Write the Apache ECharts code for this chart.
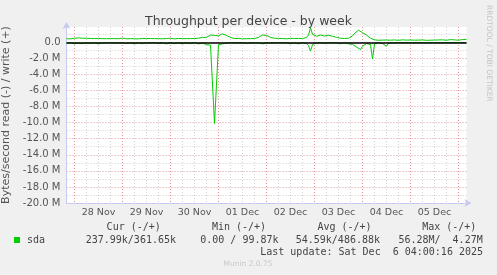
<!DOCTYPE html>
<html>
<head>
<meta charset="utf-8">
<script src="https://cdn.jsdelivr.net/npm/echarts@6/dist/echarts.min.js"></script>
<style>
html,body{margin:0;padding:0;background:#f0f0f0;}
#c{width:497px;height:275px;}
</style>
</head>
<body>
<div id="c"></div>
<script>
// hour index 0 = Nov 27 20:00, 200 = Dec 6 04:00 (hourly samples)
const dayLabels = ['28 Nov','29 Nov','30 Nov','01 Dec','02 Dec','03 Dec','04 Dec','05 Dec'];
// write (+), in MB/s
const writeValues = [
0.45,0.48,0.42,0.44,0.5,0.46,0.55,0.62,0.5,0.66,
0.5,0.45,0.47,0.43,0.46,0.44,0.48,0.42,0.45,0.47,
0.44,0.5,0.46,0.43,0.45,0.48,0.44,0.46,0.52,0.45,
0.43,0.47,0.45,0.5,0.44,0.46,0.42,0.45,0.48,0.44,
0.46,0.43,0.47,0.55,0.45,0.44,0.46,0.48,0.43,0.45,
0.47,0.44,0.5,0.46,0.42,0.45,0.48,0.44,0.46,0.43,
0.45,0.49,0.46,0.44,0.47,0.45,0.5,0.55,0.62,0.8,
0.6,0.7,0.9,1.1,0.85,0.7,0.8,0.95,1.05,0.9,
0.85,0.75,0.6,0.5,0.46,0.44,0.47,0.45,0.43,0.46,
0.44,0.48,0.45,0.5,0.47,0.55,0.6,0.75,0.9,1.1,
0.85,0.7,0.62,0.55,0.5,0.46,0.48,0.44,0.47,0.45,
0.43,0.46,0.5,0.44,0.47,0.45,0.48,0.5,0.46,0.52,
0.6,0.9,1.8,1.0,0.85,0.75,0.8,0.9,0.85,0.78,
0.82,0.88,0.8,0.75,0.7,0.62,0.55,0.5,0.46,0.48,
0.45,0.5,0.6,0.8,1.1,1.3,1.5,1.35,1.2,1.0,
0.9,0.7,0.5,0.35,0.3,0.28,0.25,0.3,0.27,0.24,
0.28,0.3,0.26,0.25,0.29,0.27,0.24,0.26,0.3,0.25,
0.27,0.25,0.28,0.24,0.26,0.3,0.27,0.25,0.29,0.26,
0.24,0.28,0.26,0.32,0.27,0.25,0.29,0.26,0.3,0.27,
0.25,0.28,0.33,0.26,0.3,0.27,0.25,0.29,0.34,0.3,0.36
];
// read (-), in MB/s
const readValues = [
-0.1,-0.2,-0.05,-0.08,-0.2,-0.05,-0.1,-0.06,-0.18,-0.05,
-0.07,-0.05,-0.15,-0.06,-0.05,-0.08,-0.2,-0.05,-0.06,-0.1,
-0.05,-0.18,-0.06,-0.05,-0.07,-0.2,-0.05,-0.06,-0.08,-0.05,
-0.16,-0.05,-0.06,-0.05,-0.2,-0.07,-0.05,-0.06,-0.18,-0.05,
-0.06,-0.08,-0.05,-0.2,-0.06,-0.05,-0.15,-0.05,-0.07,-0.06,
-0.2,-0.05,-0.06,-0.05,-0.18,-0.07,-0.05,-0.06,-0.2,-0.05,
-0.06,-0.05,-0.17,-0.06,-0.05,-0.08,-0.2,-0.06,-0.1,-0.25,
-0.3,-0.2,-0.35,-0.3,-10.1,-10.1,-0.3,-0.25,-0.2,-0.15,
-0.1,-0.06,-0.05,-0.08,-0.05,-0.2,-0.06,-0.05,-0.07,-0.05,
-0.15,-0.05,-0.06,-0.05,-0.08,-0.18,-0.06,-0.1,-0.2,-0.15,
-0.08,-0.05,-0.06,-0.2,-0.05,-0.06,-0.05,-0.17,-0.05,-0.06,
-0.05,-0.08,-0.18,-0.05,-0.06,-0.05,-0.2,-0.06,-0.05,-0.1,
-0.15,-0.4,-1.1,-0.3,-0.1,-0.06,-0.2,-0.05,-0.06,-0.15,
-0.05,-0.06,-0.2,-0.05,-0.08,-0.06,-0.05,-0.18,-0.06,-0.05,
-0.1,-0.2,-0.3,-0.25,-0.35,-0.6,-0.8,-0.9,-0.5,-0.3,
-0.15,-0.1,-0.3,-2.07,-0.2,-0.08,-0.05,-0.1,-0.15,-0.3,
-0.5,-0.1,-0.05,-0.04,-0.05,-0.03,-0.04,-0.05,-0.03,-0.04,
-0.05,-0.03,-0.04,-0.06,-0.03,-0.04,-0.05,-0.03,-0.04,-0.05,
-0.03,-0.04,-0.05,-0.03,-0.06,-0.04,-0.03,-0.05,-0.04,-0.03,
-0.04,-0.05,-0.03,-0.04,-0.06,-0.03,-0.04,-0.05,-0.03,-0.04,-0.05
];
const legendHeaders = ['Cur (-/+)','Min (-/+)','Avg (-/+)','Max (-/+)'];
const legendValues = ['237.99k/361.65k','0.00 / 99.87k','54.59k/486.88k','56.28M/  4.27M'];
const seriesName = 'sda';
const lastUpdate = 'Last update: Sat Dec  6 04:00:16 2025';

const GREEN = '#00cc00';
const RED = 'rgba(225,140,140,0.9)';
const GREY = '#cfcfcf';
const T = 'rgba(0,0,0,0)';
const AXIS = '#c8c8f0';
const SANS = 'DejaVu Sans';
const MONO = 'DejaVu Sans Mono';

const chart = echarts.init(document.getElementById('c'), null, {renderer:'canvas'});

const hdrX = [133.7, 239, 344.5, 449.3];
const valX = [176, 278.5, 380, 482.7];
const graphics = [];
legendHeaders.forEach((t,i)=>graphics.push({type:'text', x:hdrX[i], y:227, style:{text:t, font:'10px '+MONO, fill:'#444', textAlign:'center', textVerticalAlign:'middle'}}));
graphics.push({type:'rect', shape:{x:14,y:237,width:6,height:6}, style:{fill:GREEN}});
graphics.push({type:'text', x:27, y:240, style:{text:seriesName, font:'10px '+MONO, fill:'#444', textAlign:'left', textVerticalAlign:'middle'}});
legendValues.forEach((t,i)=>graphics.push({type:'text', x:valX[i], y:240, style:{text:t, font:'10px '+MONO, fill:'#444', textAlign:'right', textVerticalAlign:'middle'}}));
graphics.push({type:'text', x:483, y:252, style:{text:lastUpdate, font:'10px '+MONO, fill:'#444', textAlign:'right', textVerticalAlign:'middle'}});
graphics.push({type:'text', x:248, y:264, style:{text:'Munin 2.0.75', font:'7.5px '+SANS, fill:'#c8c8c8', textAlign:'center', textVerticalAlign:'middle'}});
graphics.push({type:'text', x:489, y:5, rotation:-Math.PI/2, style:{text:'RRDTOOL / TOBI OETIKER', font:'7.5px '+SANS, fill:'#c4c4c4', textAlign:'left', textVerticalAlign:'middle'}});

const option = {
  animation:false,
  backgroundColor:'#f0f0f0',
  title:{text:'Throughput per device - by week', left:'center', top:10,
    textStyle:{fontFamily:SANS, fontSize:12.5, fontWeight:'normal', color:'#444'}},
  grid:{left:66.5, width:400, top:27, height:176, show:true, backgroundColor:'#fff', borderWidth:0,
    containLabel:false, outerBoundsMode:'none'},
  xAxis:{
    type:'value', min:0, max:200, interval:2,
    axisLine:{onZero:false, lineStyle:{color:AXIS, width:1}, symbol:['none','arrow'], symbolSize:[6,7], symbolOffset:[0,5]},
    axisTick:{show:false},
    axisLabel:{interval:0, margin:5, color:'#555', fontFamily:SANS, fontSize:9.5, hideOverlap:false,
      formatter:v=>{ if(v>=16 && (v-16)%24===0){ const k=(v-16)/24; return dayLabels[k]||''; } return ''; }},
    splitLine:{show:true, lineStyle:{type:[1,2], width:1,
      color:[T,T,RED,T,T,GREY,T,T,GREY,T,T,GREY]}}
  },
  yAxis:{
    type:'value', min:-20, max:1.9, interval:1,
    name:'Bytes/second read (-) / write (+)', nameLocation:'middle', nameGap:51, nameRotate:90,
    nameTextStyle:{fontFamily:SANS, fontSize:11, color:'#555'},
    axisLine:{show:true, lineStyle:{color:AXIS, width:1}, symbol:['none','arrow'], symbolSize:[6,7], symbolOffset:[0,5]},
    axisTick:{show:false},
    axisLabel:{margin:6, color:'#555', fontFamily:SANS, fontSize:10,
      formatter:v=>{ const r=Math.round(v); if(Math.abs(v-r)>1e-6 || r%2!==0) return ''; return r===0?'0.0':(r.toFixed(1)+' M'); }},
    splitLine:{show:true, showMaxLine:false, lineStyle:{type:[1,2], width:1, color:[RED,GREY]}}
  },
  series:[
    {name:'read', type:'line', data:readValues.map((v,i)=>[i,v]), showSymbol:false, symbol:'none',
      sampling:null, lineStyle:{color:GREEN, width:1, join:'bevel'}, itemStyle:{color:GREEN}, z:2},
    {name:'write', type:'line', data:writeValues.map((v,i)=>[i,v]), showSymbol:false, symbol:'none',
      sampling:null, lineStyle:{color:GREEN, width:1}, itemStyle:{color:GREEN}, z:3,
      markLine:{silent:true, symbol:'none', label:{show:false}, animation:false,
        lineStyle:{color:'#000', width:1.5, type:'solid'}, data:[{yAxis:0}]}}
  ],
  graphic:graphics
};
chart.setOption(option);
</script>
</body>
</html>
